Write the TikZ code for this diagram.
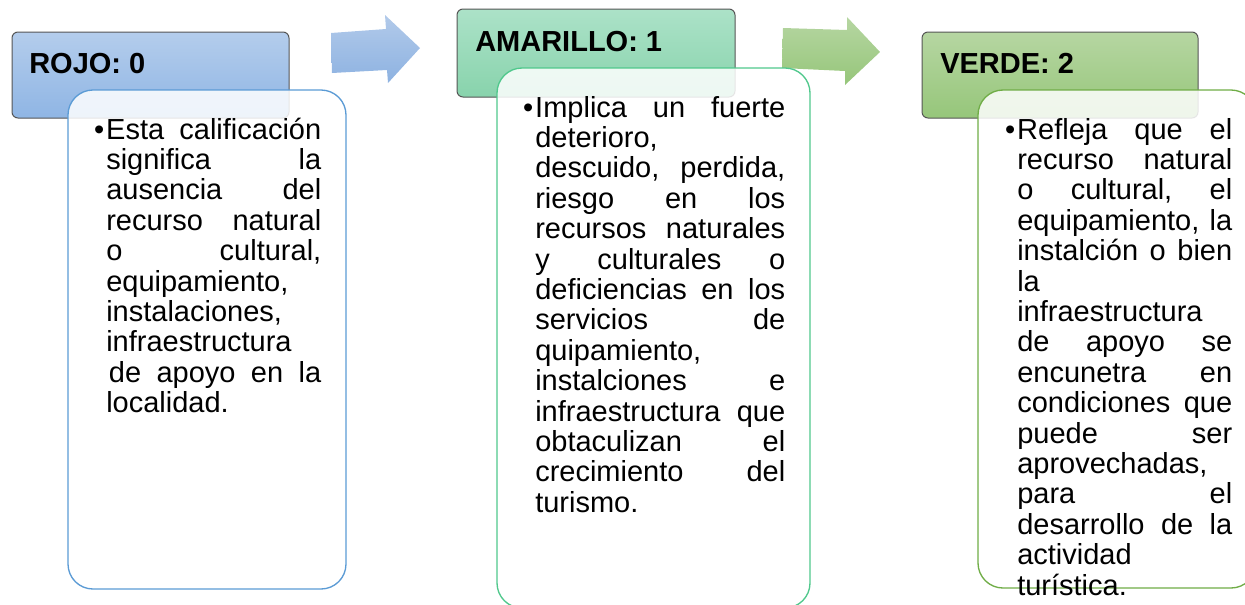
\documentclass[tikz,border=0pt]{standalone}
\usepackage{fontspec}
\setmainfont{Liberation Sans}
\definecolor{hbA}{RGB}{180,205,236}
\definecolor{hbB}{RGB}{143,181,228}
\definecolor{hmA}{RGB}{172,226,200}
\definecolor{hmB}{RGB}{136,211,172}
\definecolor{hgA}{RGB}{182,214,162}
\definecolor{hgB}{RGB}{150,198,122}
\definecolor{abA}{RGB}{178,202,234}
\definecolor{abB}{RGB}{141,178,225}
\definecolor{agA}{RGB}{182,214,162}
\definecolor{agB}{RGB}{150,198,122}
\definecolor{lnb}{RGB}{91,155,213}
\definecolor{lnm}{RGB}{80,200,140}
\definecolor{lng}{RGB}{112,173,71}
\definecolor{hdrline}{RGB}{85,85,85}
\newcommand\jl[1]{\noindent\hbox to\linewidth{#1}\par}
\newcommand\lftl[1]{\noindent\hbox to\linewidth{#1\hfil}\par}
\newcommand\bul{\llap{•\hskip1.5pt}}
\begin{document}
\begin{tikzpicture}[x=0.75pt,y=-0.75pt,
  hdr/.style={draw=hdrline, line width=0.75pt, rounded corners=4.5pt},
  body/.style={fill=white, fill opacity=0.85, line width=1pt, rounded corners=18.75pt},
  arrowshape/.style={draw=none},
  txt/.style={anchor=base west, inner sep=0pt, align=left, font=\fontsize{21.75}{22.8}\selectfont},
  lbl/.style={anchor=base west, inner sep=0pt, font=\fontsize{21.75}{26}\selectfont\bfseries}]
\useasboundingbox (0,0) rectangle (1245,604);
\clip (0,0) rectangle (1245,604);
% arrows
\shade[arrowshape, top color=abA, bottom color=abB]
  (331,33) -- (386,29) -- (385,15) -- (420,48) -- (388,83) -- (387,70) -- (332,73) -- cycle;
\shade[arrowshape, top color=agA, bottom color=agB]
  (783,28) -- (847,30) -- (847,17) -- (880,52) -- (845,85) -- (845,71) -- (782,68) -- cycle;
% headers
\shade[hdr, top color=hbA, bottom color=hbB] (12,32) rectangle (289,118);
\shade[hdr, top color=hmA, bottom color=hmB] (457,9) rectangle (735,97);
\shade[hdr, top color=hgA, bottom color=hgB] (922,32) rectangle (1198,118);
\node[lbl] (l1) at (29,73) {ROJO: 0};
\node[lbl] (l2) at (475,51) {AMARILLO: 1};
\node[lbl] (l3) at (940,73) {VERDE: 2};
% bodies
\draw[body, draw=lnb] (68,90) rectangle (346,589);
\draw[body, draw=lnm] (497,68) rectangle (810,608);
\draw[body, draw=lng] (978,90) rectangle (1256,588);
% texts
\node[txt, text width=161.25pt] (t1) at (106,139) {%
\jl{\bul Esta\hfill calificación}%
\jl{significa\hfill la}%
\jl{ausencia\hfill del}%
\jl{recurso\hfill natural}%
\jl{o\hfill cultural,}%
\lftl{equipamiento,}%
\lftl{instalaciones,}%
\lftl{infraestructura}%
\jl{\hskip2pt de\hfill apoyo\hfill en\hfill la}%
\lftl{localidad.}};
\node[txt, text width=187.5pt] (t2) at (535,117) {%
\jl{\bul Implica\hfill un\hfill fuerte}%
\lftl{deterioro,}%
\jl{descuido,\hfill perdida,}%
\jl{riesgo\hfill en\hfill los}%
\jl{recursos\hfill naturales}%
\jl{y\hfill culturales\hfill o}%
\jl{deficiencias\hfill en\hfill los}%
\jl{servicios\hfill de}%
\lftl{quipamiento,}%
\jl{instalciones\hfill e}%
\jl{infraestructura\hfill que}%
\jl{obtaculizan\hfill el}%
\jl{crecimiento\hfill del}%
\lftl{turismo.}};
\node[txt, text width=161.25pt] (t3) at (1017,139) {%
\jl{\bul Refleja\hfill que\hfill el}%
\jl{recurso\hfill natural}%
\jl{o\hfill cultural,\hfill el}%
\jl{equipamiento,\hfill la}%
\jl{instalción\hfill o\hfill bien}%
\lftl{la}%
\lftl{infraestructura}%
\jl{de\hfill apoyo\hfill se}%
\jl{encunetra\hfill en}%
\jl{condiciones\hfill que}%
\jl{puede\hfill ser}%
\lftl{aprovechadas,}%
\jl{para\hfill el}%
\jl{desarrollo\hfill de\hfill la}%
\lftl{actividad}%
\lftl{turística.}};
\end{tikzpicture}
\end{document}
